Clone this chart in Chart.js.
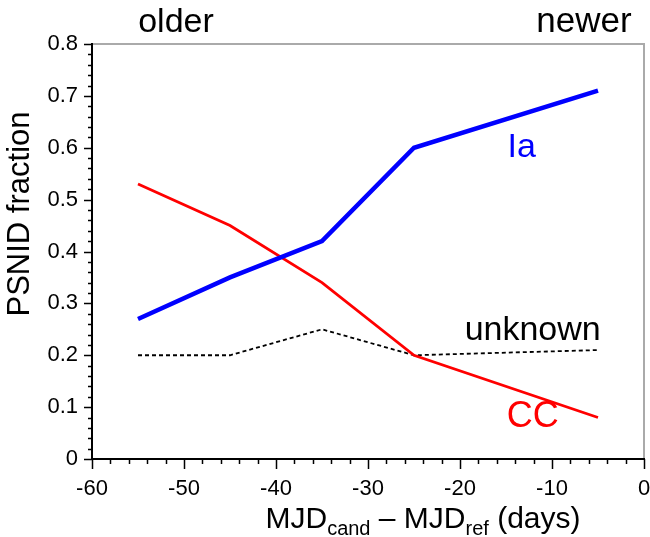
<!DOCTYPE html>
<html>
<head>
<meta charset="utf-8">
<script src="https://cdn.jsdelivr.net/npm/chart.js@4/dist/chart.umd.min.js"></script>
<style>
  html, body { margin: 0; padding: 0; background: #fff; }
  #wrap { position: relative; width: 650px; height: 537px; }
</style>
</head>
<body>
<div id="wrap"><canvas id="chart"></canvas></div>
<script>
const FONT = '"Liberation Sans", Arial, Helvetica, sans-serif';

// days before reference epoch
const dayBins = [-55, -45, -35, -25, -5];
const iaFraction = [0.27, 0.35, 0.42, 0.60, 0.71];
const ccFraction = [0.53, 0.45, 0.34, 0.20, 0.08];
const unknownFraction = [0.20, 0.20, 0.25, 0.20, 0.21];

const xMin = -60, xMax = 0, xMajor = 10, xMinor = 2;
const yMin = 0, yMax = 0.8, yMajor = 0.1, yMinor = 0.02;

// in-plot labels: [text, x, y, colour, size]
const seriesLabels = [
  ['Ia', -13.3, 0.582, '#0000ff', 34],
  ['unknown', -12.1, 0.229, '#000000', 34],
  ['CC', -12.1, 0.061, '#ff0000', 36]
];

const toPoints = vals => dayBins.map((d, i) => ({ x: d, y: vals[i] }));

const framePlugin = {
  id: 'frame',
  afterDraw(chart) {
    const ctx = chart.ctx;
    const { left, right, top, bottom } = chart.chartArea;
    const xs = chart.scales.x, ys = chart.scales.y;
    ctx.save();

    // grey top + right
    ctx.strokeStyle = '#aaaaaa';
    ctx.lineWidth = 2;
    ctx.beginPath();
    ctx.moveTo(left, top);
    ctx.lineTo(right, top);
    ctx.lineTo(right, bottom);
    ctx.stroke();

    // black left + bottom axes
    ctx.strokeStyle = '#000';
    ctx.beginPath();
    ctx.moveTo(left, top - 1);
    ctx.lineTo(left, bottom);
    ctx.lineTo(right + 1, bottom);
    ctx.stroke();

    // ticks, pointing outward
    ctx.lineWidth = 1.5;
    ctx.beginPath();
    for (let i = 0; i <= Math.round((xMax - xMin) / xMinor); i++) {
      const v = xMin + i * xMinor;
      const px = Math.round(xs.getPixelForValue(v)) + 0.5;
      const len = (i % 5 === 0) ? 10 : 5;
      ctx.moveTo(px, bottom);
      ctx.lineTo(px, bottom + len);
    }
    for (let i = 0; i <= Math.round((yMax - yMin) / yMinor); i++) {
      const v = yMin + i * yMinor;
      const py = Math.round(ys.getPixelForValue(v)) + 0.5;
      const len = (i % 5 === 0) ? 8 : 4;
      ctx.moveTo(left, py);
      ctx.lineTo(left - len, py);
    }
    ctx.stroke();

    // older / newer
    ctx.fillStyle = '#000';
    ctx.textBaseline = 'alphabetic';
    ctx.textAlign = 'center';
    ctx.font = '34px ' + FONT;
    ctx.fillText('older', 176, 32);
    ctx.font = '35px ' + FONT;
    ctx.fillText('newer', 584, 32);

    // series labels
    seriesLabels.forEach(([txt, x, y, col, size]) => {
      ctx.fillStyle = col;
      ctx.font = size + 'px ' + FONT;
      ctx.fillText(txt, xs.getPixelForValue(x), ys.getPixelForValue(y));
    });

    // y title
    ctx.fillStyle = '#000';
    ctx.save();
    ctx.translate(29, 214);
    ctx.rotate(-Math.PI / 2);
    ctx.font = '31px ' + FONT;
    ctx.textAlign = 'center';
    ctx.fillText('PSNID fraction', 0, 0);
    ctx.restore();

    // x title with subscripts
    const big = '30px ' + FONT, small = '20px ' + FONT;
    const parts = [
      ['MJD', big, 0], ['cand', small, 7], [' \u2013 ', big, 0],
      ['MJD', big, 0], ['ref', small, 7], [' (days)', big, 0]
    ];
    let total = 0;
    parts.forEach(p => { ctx.font = p[1]; total += ctx.measureText(p[0]).width; });
    let cx = 423 - total / 2;
    ctx.textAlign = 'left';
    parts.forEach(p => {
      ctx.font = p[1];
      ctx.fillText(p[0], cx, 528 + p[2]);
      cx += ctx.measureText(p[0]).width;
    });

    ctx.restore();
  }
};

new Chart(document.getElementById('chart').getContext('2d'), {
  type: 'line',
  data: {
    datasets: [
      {
        label: 'Ia',
        data: toPoints(iaFraction),
        borderColor: '#0000ff',
        borderWidth: 4.5,
        pointRadius: 0,
        tension: 0
      },
      {
        label: 'CC',
        data: toPoints(ccFraction),
        borderColor: '#ff0000',
        borderWidth: 2.8,
        pointRadius: 0,
        tension: 0
      },
      {
        label: 'unknown',
        data: toPoints(unknownFraction),
        borderColor: '#000000',
        borderWidth: 1.8,
        borderDash: [4, 3],
        pointRadius: 0,
        tension: 0
      }
    ]
  },
  options: {
    responsive: true,
    maintainAspectRatio: false,
    animation: false,
    layout: { padding: { top: 44, right: 6, left: 0, bottom: 0 } },
    plugins: { legend: { display: false }, tooltip: { enabled: false } },
    scales: {
      x: {
        type: 'linear',
        min: xMin,
        max: xMax,
        grid: { display: false, drawTicks: false },
        border: { display: false },
        ticks: {
          stepSize: xMajor,
          color: '#000',
          font: { family: FONT, size: 22 },
          padding: 17,
          maxRotation: 0
        },
        afterFit: s => { s.height = 78; s.paddingLeft = 0; s.paddingRight = 0; }
      },
      y: {
        min: yMin,
        max: yMax,
        grid: { display: false, drawTicks: false },
        border: { display: false },
        ticks: {
          stepSize: yMajor,
          color: '#000',
          font: { family: FONT, size: 22 },
          padding: 14,
          callback: v => +v.toFixed(1)
        },
        afterFit: s => { s.width = 92; s.paddingTop = 0; s.paddingBottom = 0; }
      }
    }
  },
  plugins: [framePlugin]
});
</script>
</body>
</html>
